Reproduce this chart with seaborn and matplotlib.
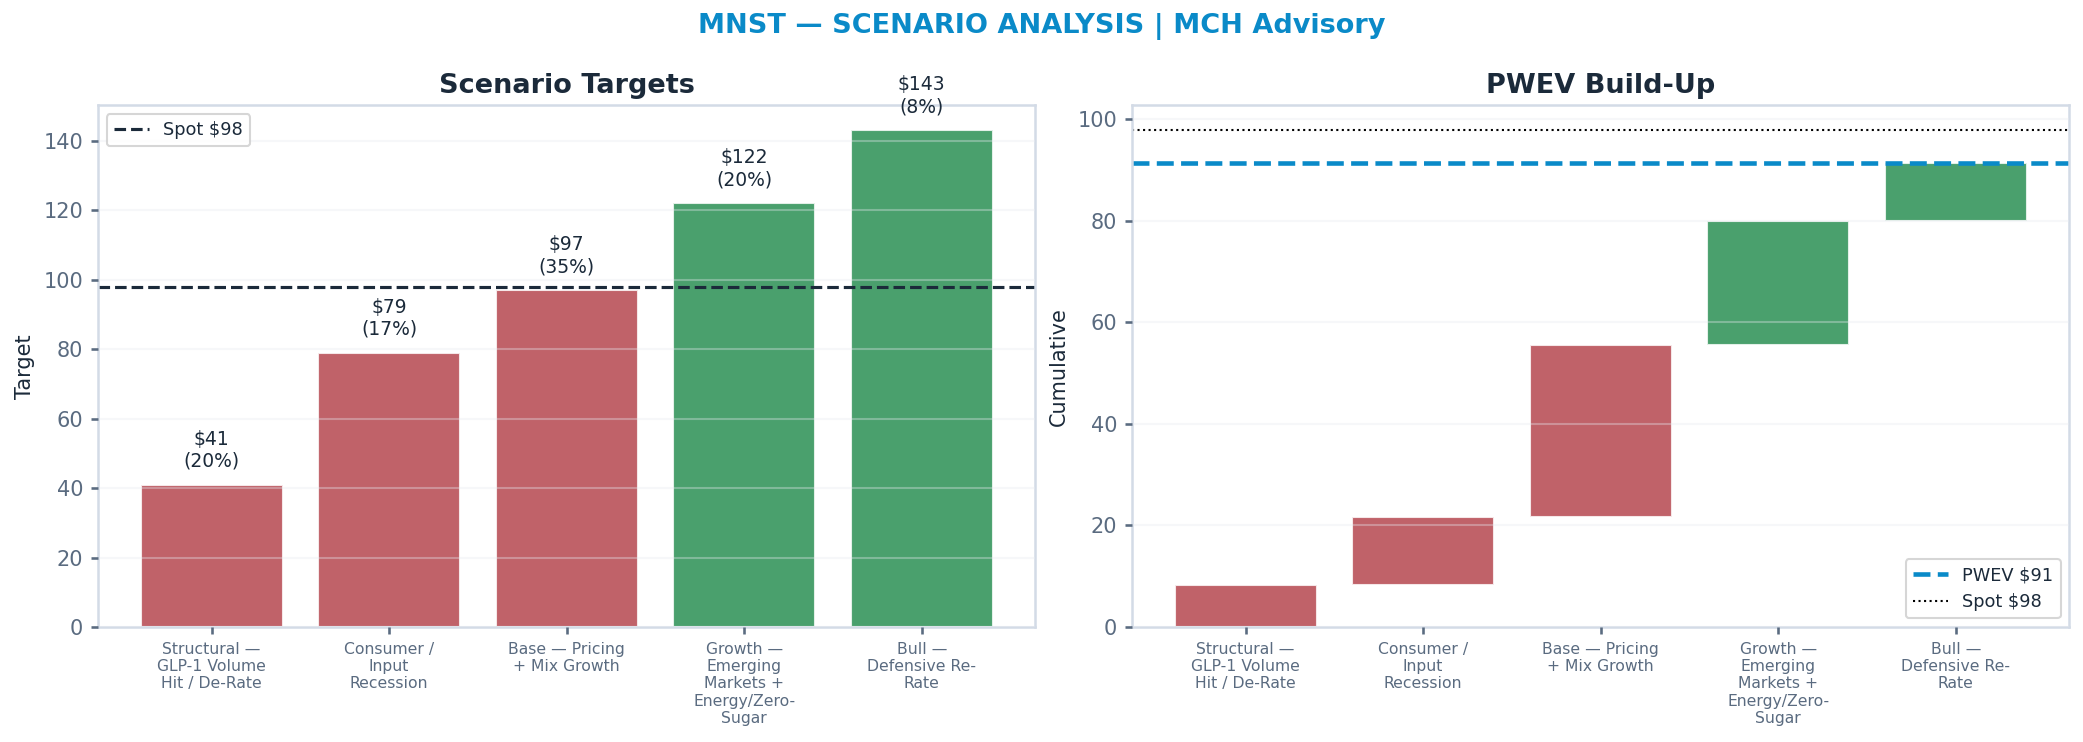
import textwrap
import matplotlib
matplotlib.use("Agg")
import matplotlib.pyplot as plt
import seaborn as sns
import numpy as np
import pandas as pd

# === Data ===
scenarios = [
    "Structural — GLP-1 Volume Hit / De-Rate",
    "Consumer / Input Recession",
    "Base — Pricing + Mix Growth",
    "Growth — Emerging Markets + Energy/Zero-Sugar",
    "Bull — Defensive Re-Rate",
]
targets = [41, 79, 97, 122, 143]
probs = [20, 17, 35, 20, 8]
spot = 97.8

NAVY = "#1B2A3A"
SLATE = "#5A6B80"
BLUE = "#0A8AC8"
RED = "#B5464F"
GREEN = "#2A9054"
SPINE = "#D3DBE6"

sns.set_theme(style="whitegrid")
plt.rcParams.update({
    "font.family": ["DejaVu Sans"],
    "axes.edgecolor": SPINE,
    "axes.linewidth": 1.2,
    "grid.color": "#E6EAF0",
    "grid.alpha": 0.35,
    "xtick.bottom": True,
    "ytick.left": True,
    "xtick.color": SLATE,
    "ytick.color": SLATE,
    "xtick.major.size": 3.5,
    "ytick.major.size": 3.5,
})

df = pd.DataFrame({"scenario": scenarios, "target": targets, "prob": probs})
df["label"] = [textwrap.fill(s, 14) for s in df["scenario"]]
df["weighted"] = df["target"] * df["prob"] / 100
df["cum"] = df["weighted"].cumsum()
df["start"] = df["cum"] - df["weighted"]
pwev = df["weighted"].sum()
colors = [GREEN if t > spot else RED for t in df["target"]]

fig, (ax1, ax2) = plt.subplots(1, 2, figsize=(13.893, 4.947), dpi=150)
fig.subplots_adjust(left=0.047, right=0.993, top=0.858, bottom=0.155, wspace=0.103)

# --- Scenario targets ---
x = np.arange(len(df))
sns.barplot(x="label", y="target", hue="label", data=df, palette=colors,
            legend=False, ax=ax1, width=0.8, alpha=0.85, saturation=1)
ax1.axhline(spot, color=NAVY, ls="--", lw=1.5, label=f"Spot ${spot:.0f}")
for i, (t, p) in enumerate(zip(df["target"], df["prob"])):
    ax1.text(i, t + 4, f"${t}\n({p}%)", ha="center", va="bottom",
             fontsize=9, color=NAVY)
ax1.set_xlim(-0.64, 4.64)
ax1.set_ylim(0, 150.2)
ax1.set_title("Scenario Targets", fontsize=13, fontweight="bold", color=NAVY)
ax1.set_xlabel("")
ax1.set_ylabel("Target", fontsize=10, color=NAVY)
ax1.legend(loc="upper left", fontsize=8.5, labelcolor=NAVY)

# --- PWEV build-up ---
ax2.bar(x, df["weighted"], bottom=df["start"], width=0.8, color=colors, alpha=0.85)
ax2.axhline(pwev, color=BLUE, ls="--", lw=2.2, label=f"PWEV ${pwev:.0f}")
ax2.axhline(spot, color="black", ls=":", lw=1, label=f"Spot ${spot:.0f}")
ax2.set_xticks(x)
ax2.set_xticklabels(df["label"])
ax2.set_xlim(-0.64, 4.64)
ax2.set_ylim(0, spot * 1.05)
ax2.set_title("PWEV Build-Up", fontsize=13, fontweight="bold", color=NAVY)
ax2.set_ylabel("Cumulative", fontsize=10, color=NAVY)
ax2.legend(loc="lower right", fontsize=8.5, labelcolor=NAVY)

for ax in (ax1, ax2):
    ax.set_axisbelow(False)
    ax.grid(axis="x", visible=False)
    ax.grid(axis="y", visible=True)
    ax.tick_params(axis="x", labelsize=7.5)
    ax.tick_params(axis="y", labelsize=10)

fig.suptitle("MNST — SCENARIO ANALYSIS | MCH Advisory", fontsize=13,
             fontweight="bold", color=BLUE, y=0.982)

fig.savefig("out.png", dpi=150)
